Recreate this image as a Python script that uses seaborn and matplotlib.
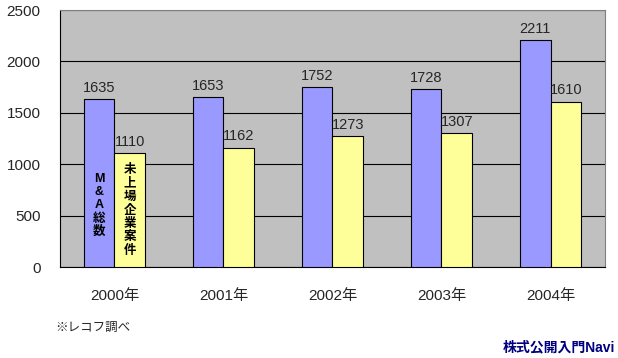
import pandas as pd
import matplotlib
matplotlib.use("Agg")
import matplotlib.pyplot as plt
import seaborn as sns

# データ
years = ["2000年", "2001年", "2002年", "2003年", "2004年"]
ma_total = [1635, 1653, 1752, 1728, 2211]
unlisted = [1110, 1162, 1273, 1307, 1610]
series_names = ["M&A総数", "未上場企業案件"]

df = pd.DataFrame({
    "year": years * 2,
    "count": ma_total + unlisted,
    "series": [series_names[0]] * len(years) + [series_names[1]] * len(years),
})

sns.set_theme(style="white")
plt.rcParams["font.family"] = ["Liberation Sans", "Noto Sans CJK JP", "DejaVu Sans"]

fig = plt.figure(figsize=(6.18, 3.58), dpi=100)
ax = fig.add_axes([0.097, 0.254, 0.882, 0.718])
ax.set_facecolor("#C0C0C0")

sns.barplot(data=df, x="year", y="count", hue="series", order=years,
            hue_order=series_names, palette=["#9999FF", "#FFFF99"],
            saturation=1, width=0.56, edgecolor="black", linewidth=0.8,
            legend=False, ax=ax, zorder=3)

ax.set_ylim(0, 2500)
ax.set_yticks(range(0, 2501, 500))
ax.yaxis.grid(True, color="black", linewidth=0.8, zorder=0)
ax.set_axisbelow(True)
ax.set_xlim(-0.5, 4.5)
ax.set_xlabel("")
ax.set_ylabel("")
ax.tick_params(axis="x", labelsize=11, length=0, pad=16)
ax.tick_params(axis="y", labelsize=11, length=0, pad=14)
for sp in ax.spines.values():
    sp.set_color("#808080")
    sp.set_linewidth(0.8)
ax.spines["left"].set_color("black")
ax.spines["bottom"].set_color("black")

# 値ラベル
for cont in ax.containers:
    ax.bar_label(cont, fontsize=10.5, padding=3)

# 系列名（棒の中に縦書き）
for cont, name, y in zip(ax.containers, series_names, [600, 550]):
    b = cont[0]
    ax.text(b.get_x() + b.get_width() / 2, y, "\n".join(list(name)),
            ha="center", va="center", fontsize=9, fontweight="bold",
            linespacing=1.15, color="black", zorder=4)

fig.text(0.09, 0.085, "※レコフ調べ", fontsize=9, ha="left", va="center")
fig.text(0.995, 0.03, "株式公開入門Navi", fontsize=10, ha="right", va="center",
         color="#000080", fontweight="bold")

fig.savefig("out.png", dpi=100, facecolor="white")
